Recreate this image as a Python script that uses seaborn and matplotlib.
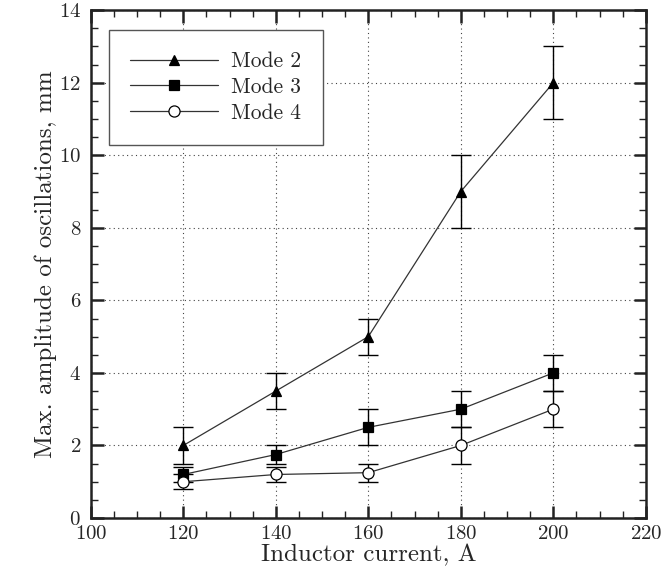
import numpy as np
import pandas as pd
import matplotlib
matplotlib.use('Agg')
import matplotlib.pyplot as plt
from matplotlib.ticker import MultipleLocator
import seaborn as sns

# data
current = [120, 140, 160, 180, 200]
mode2 = [2.0, 3.5, 5.0, 9.0, 12.0]
mode2_err = [0.5, 0.5, 0.5, 1.0, 1.0]
mode3 = [1.2, 1.75, 2.5, 3.0, 4.0]
mode3_err = [0.2, 0.25, 0.5, 0.5, 0.5]
mode4 = [1.0, 1.2, 1.25, 2.0, 3.0]
mode4_err = [0.2, 0.2, 0.25, 0.5, 0.5]

series = ['Mode 2', 'Mode 3', 'Mode 4']
values = [mode2, mode3, mode4]
errors = [mode2_err, mode3_err, mode4_err]
markers = ['^', 's', 'o']
faces = ['black', 'black', 'white']
msizes = [7, 7, 8]

df = pd.concat([pd.DataFrame({'current': current, 'amp': v, 'err': e, 'mode': s})
                for s, v, e in zip(series, values, errors)], ignore_index=True)

sns.set_style('ticks')
plt.rcParams['font.family'] = ['cmr10', 'DejaVu Serif']
plt.rcParams['mathtext.fontset'] = 'cm'
plt.rcParams['axes.formatter.use_mathtext'] = True

fig = plt.figure(figsize=(6.63, 5.67), dpi=100)
ax = fig.add_axes([0.137, 0.0864, 0.837, 0.8956])

for s, m, fc, ms in zip(series, markers, faces, msizes):
    d = df[df['mode'] == s]
    ax.errorbar(d['current'], d['amp'], yerr=d['err'], fmt='none',
                ecolor='black', elinewidth=1.0, capsize=7, capthick=1.0, zorder=2)
    sns.lineplot(data=d, x='current', y='amp', ax=ax, color='#333333', lw=0.9,
                 marker=m, markersize=ms, markerfacecolor=fc,
                 markeredgecolor='black', markeredgewidth=0.9,
                 label=s, zorder=3)

ax.set_xlim(100, 220)
ax.set_ylim(0, 14)
ax.xaxis.set_major_locator(MultipleLocator(20))
ax.xaxis.set_minor_locator(MultipleLocator(5))
ax.yaxis.set_major_locator(MultipleLocator(2))
ax.yaxis.set_minor_locator(MultipleLocator(0.5))

ax.grid(True, which='major', linestyle=(0, (1, 3)), color='#444444', lw=0.8)
for sp in ax.spines.values():
    sp.set_linewidth(1.8)
    sp.set_color('#222222')
ax.tick_params(which='both', direction='in', top=True, right=True, labelsize=15,
               color='#222222')
ax.tick_params(which='major', length=9, width=1.8)
ax.tick_params(which='minor', length=5, width=1.0)
ax.tick_params(axis='x', pad=5)
ax.tick_params(axis='y', pad=7)

ax.set_xlabel('Inductor current, A', fontsize=18, labelpad=1)
ax.set_ylabel('Max. amplitude of oscillations, mm', fontsize=18, labelpad=1)

leg = ax.legend(loc='upper left', bbox_to_anchor=(0.032, 0.961), borderaxespad=0,
                fontsize=15.5, fancybox=False, framealpha=1, edgecolor='#555555',
                handlelength=4.1, borderpad=1.0, labelspacing=0.3, handletextpad=0.6)
leg.get_frame().set_linewidth(1.0)

plt.savefig('out.png', dpi=100)
